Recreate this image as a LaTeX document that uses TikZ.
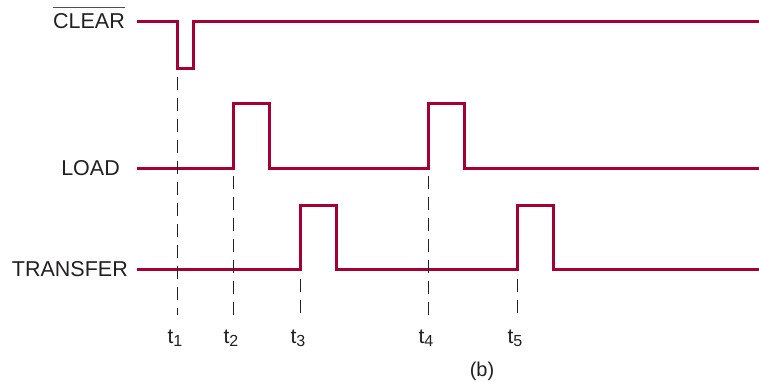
\documentclass[tikz,border=0pt]{standalone}
\usepackage{fontspec}
\setmainfont{Liberation Sans}
\definecolor{sig}{RGB}{165,0,52}
\definecolor{txt}{RGB}{35,31,32}
\newcommand{\tsub}[1]{t\raisebox{-3.5pt}{\fontsize{16}{18}\selectfont #1}}
\begin{document}
\begin{tikzpicture}[x=1pt,y=-1pt,
  wave/.style={draw=sig,line width=3pt,line join=miter},
  guide/.style={draw=txt,line width=1pt,dash pattern=on 13pt off 8pt},
  lbl/.style={font=\fontsize{21.5}{25}\selectfont,text=txt,inner sep=0pt,anchor=east},
  tlbl/.style={font=\fontsize{21}{24}\selectfont,text=txt,inner sep=0pt,anchor=base}]
\useasboundingbox (0,0) rectangle (759,382);
% signal labels
\node[lbl] (clr) at (125,21.5) {CLEAR};
\draw[txt!80,line width=0.8pt] ([yshift=6pt]clr.north west) -- ([yshift=6pt]clr.north east);
\node[lbl] (load) at (120,168) {LOAD};
\node[lbl] (xfer) at (128,269) {TRANSFER};
% waveforms
\draw[wave] (137,21.5) -| (177,69) -| (193,21.5) -- (759,21.5);
\draw[wave] (137,168) -| (233,104) -| (269,168) -| (428,104) -| (464,168) -- (759,168);
\draw[wave] (137,269) -| (300,205) -| (336,269) -| (517,205) -| (553,269) -- (759,269);
% time labels
\node[tlbl] (t1) at (175,343) {\tsub{1}};
\node[tlbl] (t2) at (231,343) {\tsub{2}};
\node[tlbl] (t3) at (298,343) {\tsub{3}};
\node[tlbl] (t4) at (426,343) {\tsub{4}};
\node[tlbl] (t5) at (515,343) {\tsub{5}};
\node[font=\fontsize{20}{24}\selectfont,text=txt,inner sep=0pt] (cap) at (482,371) {(b)};
% guide lines
\coordinate (g1a) at (177,77);  \coordinate (g1b) at (177,315);
\coordinate (g2a) at (233,176); \coordinate (g2b) at (233,315);
\coordinate (g3a) at (300,279); \coordinate (g3b) at (300,315);
\coordinate (g4a) at (428,176); \coordinate (g4b) at (428,315);
\coordinate (g5a) at (517,279); \coordinate (g5b) at (517,315);
\foreach \i in {1,...,5} {\draw[guide] (g\i a) -- (g\i b);}
\end{tikzpicture}
\end{document}
